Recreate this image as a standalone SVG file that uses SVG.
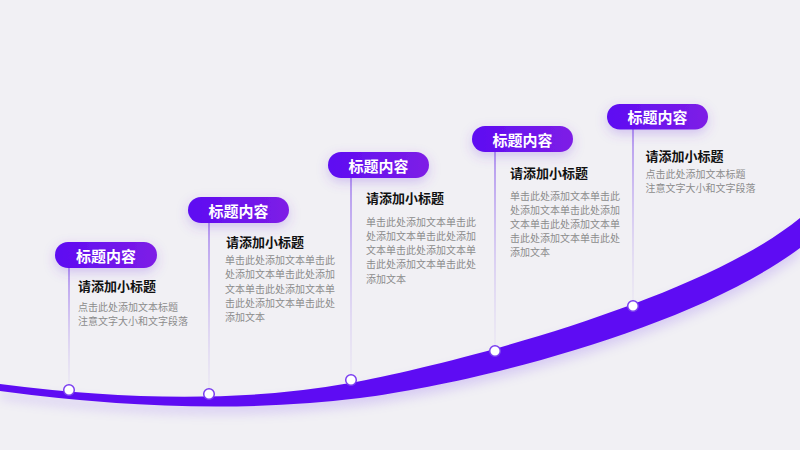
<svg xmlns="http://www.w3.org/2000/svg" width="800" height="450" viewBox="0 0 800 450">
<defs>
<linearGradient id="pillGrad" x1="0" y1="0" x2="1" y2="0">
<stop offset="0" stop-color="#5D0CF2"/>
<stop offset="1" stop-color="#7E1DE6"/>
</linearGradient>
<linearGradient id="lineGrad" x1="0" y1="0" x2="0" y2="1">
<stop offset="0" stop-color="#8A5CEB" stop-opacity="1"/>
<stop offset="1" stop-color="#C9B8F0" stop-opacity="0.2"/>
</linearGradient>
<filter id="pillShadow" x="-30%" y="-60%" width="160%" height="240%">
<feDropShadow dx="0" dy="4" stdDeviation="6" flood-color="#7B3FE4" flood-opacity="0.28"/>
</filter>
<filter id="bandShadow" x="-10%" y="-50%" width="120%" height="200%">
<feGaussianBlur stdDeviation="6"/>
</filter>
<style>
.pill{fill:url(#pillGrad);filter:url(#pillShadow);}
.pt{font-family:"Noto Sans CJK SC","Noto Sans",sans-serif;font-size:15px;font-weight:bold;fill:#FFFFFF;text-anchor:middle;dominant-baseline:central;}
.st{font-family:"Noto Sans CJK SC","Noto Sans",sans-serif;font-size:13px;font-weight:bold;fill:#111111;dominant-baseline:central;}
.bt{font-family:"Noto Sans CJK SC","Noto Sans",sans-serif;font-size:10px;fill:#8C8C8C;dominant-baseline:central;}
.vl{fill:url(#lineGrad);}
.dot{fill:#FFFFFF;stroke:#7A3EF0;stroke-width:1.5;}
</style>
</defs>
<rect x="0" y="0" width="800" height="450" fill="#F1F0F4"/>
<g id="connectors">
<path d="M0,384 Q200,410 350,383 C450,365 700,300 800,218 L800,248 C690,330 470,384 360,398 Q200,418 0,391 Z" fill="#7B4CF0" opacity="0.22" transform="translate(0,7)" filter="url(#bandShadow)"/>
<path id="band" d="M0,384 Q200,410 350,383 C450,365 700,300 800,218 L800,248 C690,330 470,384 360,398 Q200,418 0,391 Z" fill="#5E0CF3"/>
<rect class="vl" x="68.4" y="268" width="1.2" height="117"/>
<rect class="vl" x="208.4" y="223" width="1.2" height="166"/>
<rect class="vl" x="350.4" y="178" width="1.2" height="197"/>
<rect class="vl" x="494.4" y="152" width="1.2" height="194"/>
<rect class="vl" x="632.4" y="129" width="1.2" height="172"/>
</g>
<g id="node1">
<rect class="pill" x="55" y="242" width="102" height="26" rx="13"/>
<text class="pt" x="106" y="255">标题内容</text>
<text class="st" x="78" y="285">请添加小标题</text>
<text class="bt" x="78" y="306">点击此处添加文本标题</text>
<text class="bt" x="78" y="320">注意文字大小和文字段落</text>
<circle class="dot" cx="69" cy="390" r="5.3"/>
</g>
<g id="node2">
<rect class="pill" x="188" y="197" width="101" height="26" rx="13"/>
<text class="pt" x="238.5" y="210">标题内容</text>
<text class="st" x="226" y="241">请添加小标题</text>
<text class="bt" x="225" y="259">单击此处添加文本单击此</text>
<text class="bt" x="225" y="273.5">处添加文本单击此处添加</text>
<text class="bt" x="225" y="288">文本单击此处添加文本单</text>
<text class="bt" x="225" y="302">击此处添加文本单击此处</text>
<text class="bt" x="225" y="316.5">添加文本</text>
<circle class="dot" cx="209" cy="394" r="5.3"/>
</g>
<g id="node3">
<rect class="pill" x="328" y="152" width="101" height="26" rx="13"/>
<text class="pt" x="378.5" y="165">标题内容</text>
<text class="st" x="366" y="197.5">请添加小标题</text>
<text class="bt" x="366" y="221">单击此处添加文本单击此</text>
<text class="bt" x="366" y="235.25">处添加文本单击此处添加</text>
<text class="bt" x="366" y="249.5">文本单击此处添加文本单</text>
<text class="bt" x="366" y="263.75">击此处添加文本单击此处</text>
<text class="bt" x="366" y="278">添加文本</text>
<circle class="dot" cx="351" cy="380" r="5.3"/>
</g>
<g id="node4">
<rect class="pill" x="472" y="126" width="101" height="26" rx="13"/>
<text class="pt" x="522.5" y="139">标题内容</text>
<text class="st" x="510" y="172.5">请添加小标题</text>
<text class="bt" x="510" y="195">单击此处添加文本单击此</text>
<text class="bt" x="510" y="209.2">处添加文本单击此处添加</text>
<text class="bt" x="510" y="223.4">文本单击此处添加文本单</text>
<text class="bt" x="510" y="237.6">击此处添加文本单击此处</text>
<text class="bt" x="510" y="251.8">添加文本</text>
<circle class="dot" cx="495" cy="351" r="5.3"/>
</g>
<g id="node5">
<rect class="pill" x="607" y="104" width="101" height="25.5" rx="12.75"/>
<text class="pt" x="657.5" y="116.8">标题内容</text>
<text class="st" x="645.5" y="155">请添加小标题</text>
<text class="bt" x="645.5" y="173">点击此处添加文本标题</text>
<text class="bt" x="645.5" y="187">注意文字大小和文字段落</text>
<circle class="dot" cx="633" cy="306" r="5.3"/>
</g>
</svg>
